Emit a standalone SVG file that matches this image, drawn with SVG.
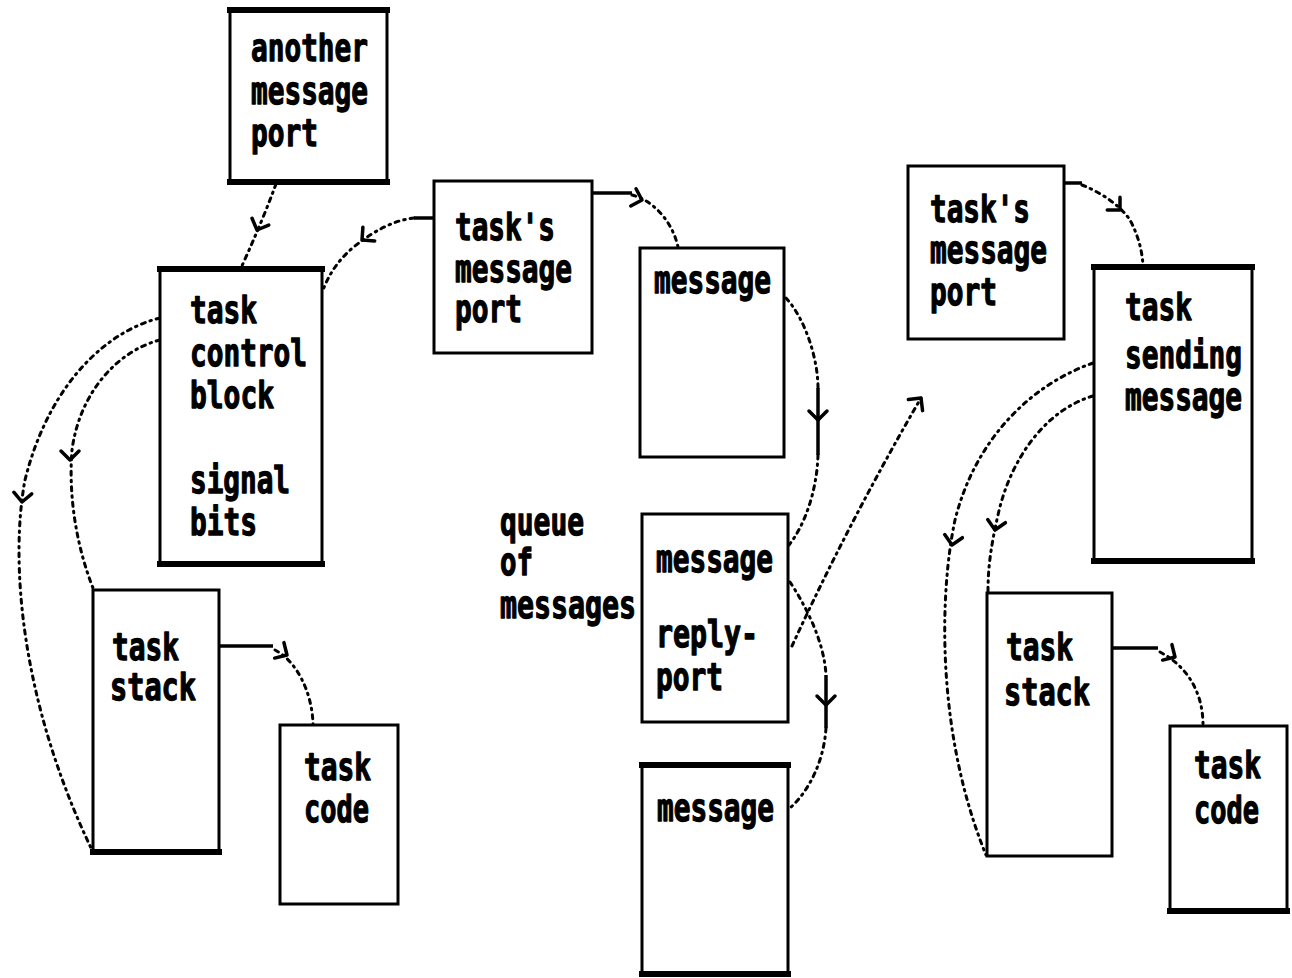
<svg xmlns="http://www.w3.org/2000/svg" xmlns:xlink="http://www.w3.org/1999/xlink" width="1292" height="978" viewBox="0 0 1292 978">
  <style>
    .box { fill: #fff; stroke: #000; stroke-width: 3; }
    .edge { stroke: #000; stroke-width: 6; stroke-linecap: square; }
    .lbl { font-family: "DejaVu Sans Mono", "Liberation Mono", monospace; font-weight: bold; font-size: 38px; fill: #000; stroke: #000; stroke-width: 1.3; stroke-linejoin: round; }
    .dot { fill: none; stroke: #000; stroke-width: 3; stroke-dasharray: 4 5 1.5 5; stroke-linecap: round; }
    .lead { fill: none; stroke: #000; stroke-width: 3.5; }
    .fork { fill: none; stroke: #000; stroke-width: 3.5; stroke-linecap: round; stroke-linejoin: round; }
  </style>
  <defs>
    <!-- crude open arrowhead; tip at origin, pointing along +y -->
    <path id="fork" class="fork" d="M-9,-9 L0,0 L9,-9"/>
  </defs>
  <rect width="1292" height="978" fill="#fff"/>

  <!-- connectors -->
  <g id="connectors">
    <!-- another message port -> task control block -->
    <path class="dot" d="M276,184 Q262,222 241,268"/>
    <use href="#fork" transform="translate(257,230) rotate(22)"/>

    <!-- task's message port -> task control block -->
    <path class="lead" d="M433,218 L414,218"/>
    <path class="dot" d="M414,218 C395,220 375,230 355,246 C340,258 330,272 323,290"/>
    <use href="#fork" transform="translate(362,240) rotate(49)"/>

    <!-- task's message port -> first message -->
    <path class="lead" d="M593,193 L632,193"/>
    <path class="dot" d="M632,195 C652,200 672,220 678,247"/>
    <use href="#fork" transform="translate(642,200) rotate(-73)"/>

    <!-- first message -> second message -->
    <path class="dot" d="M786,298 C806,320 818,360 818,388"/>
    <path class="lead" d="M818,388 L818,455"/>
    <path class="dot" d="M818,455 C817,490 805,525 789,545"/>
    <use href="#fork" transform="translate(818,420)"/>

    <!-- second message -> third message -->
    <path class="dot" d="M790,582 C805,605 824,640 826,675"/>
    <path class="lead" d="M826,675 L826,728"/>
    <path class="dot" d="M826,728 C824,760 810,790 790,808"/>
    <use href="#fork" transform="translate(826,705)"/>

    <!-- reply-port -> task's message port (right) -->
    <path class="dot" d="M792,646 Q850,520 921,398"/>
    <use href="#fork" transform="translate(921,398) rotate(-142)"/>

    <!-- task control block -> task stack (outer) -->
    <path class="dot" d="M160,318 C110,330 50,380 25,480 C10,560 20,700 92,850"/>
    <use href="#fork" transform="translate(22,502) rotate(5)"/>

    <!-- task control block -> task stack (inner) -->
    <path class="dot" d="M160,340 C120,350 80,390 72,450 C68,500 78,550 93,588"/>
    <use href="#fork" transform="translate(70,460)"/>

    <!-- task stack -> task code (left) -->
    <path class="lead" d="M219,646 L273,646"/>
    <path class="dot" d="M275,650 C295,660 312,690 313,724"/>
    <use href="#fork" transform="translate(287,655) rotate(-59)"/>

    <!-- task's message port -> task sending message -->
    <path class="lead" d="M1064,183 L1082,183"/>
    <path class="dot" d="M1082,185 C1100,192 1120,205 1130,220 C1138,235 1142,250 1143,265"/>
    <use href="#fork" transform="translate(1120,210) rotate(-45)"/>

    <!-- task sending message -> task stack (outer) -->
    <path class="dot" d="M1093,363 C1030,385 975,440 955,520 C940,590 935,730 986,855"/>
    <use href="#fork" transform="translate(952,545) rotate(10)"/>

    <!-- task sending message -> task stack (inner) -->
    <path class="dot" d="M1093,396 C1045,410 1010,460 998,515 C990,550 988,570 988,592"/>
    <use href="#fork" transform="translate(995,530) rotate(10)"/>

    <!-- task stack -> task code (right) -->
    <path class="lead" d="M1112,648 L1158,648"/>
    <path class="dot" d="M1160,652 C1185,665 1203,690 1203,725"/>
    <use href="#fork" transform="translate(1175,657) rotate(-59)"/>
  </g>

  <g id="another-port">
    <rect class="box" x="230" y="10" width="157" height="172"/>
    <line class="edge" x1="230" y1="10" x2="387" y2="10"/>
    <line class="edge" x1="230" y1="182" x2="387" y2="182"/>
    <text class="lbl" x="251" y="61" textLength="117" lengthAdjust="spacingAndGlyphs">another</text>
    <text class="lbl" x="251" y="104" textLength="117" lengthAdjust="spacingAndGlyphs">message</text>
    <text class="lbl" x="251" y="146" textLength="67" lengthAdjust="spacingAndGlyphs">port</text>
  </g>

  <g id="task-control-block">
    <rect class="box" x="160" y="269" width="162" height="295"/>
    <line class="edge" x1="160" y1="269" x2="322" y2="269"/>
    <line class="edge" x1="160" y1="564" x2="322" y2="564"/>
    <text class="lbl" x="190" y="323" textLength="67" lengthAdjust="spacingAndGlyphs">task</text>
    <text class="lbl" x="190" y="366" textLength="117" lengthAdjust="spacingAndGlyphs">control</text>
    <text class="lbl" x="190" y="408" textLength="84" lengthAdjust="spacingAndGlyphs">block</text>
    <text class="lbl" x="190" y="493" textLength="100" lengthAdjust="spacingAndGlyphs">signal</text>
    <text class="lbl" x="190" y="535" textLength="67" lengthAdjust="spacingAndGlyphs">bits</text>
  </g>

  <g id="task-port">
    <rect class="box" x="434" y="181" width="158" height="172"/>
    <text class="lbl" x="455" y="240" textLength="100" lengthAdjust="spacingAndGlyphs">task's</text>
    <text class="lbl" x="455" y="282" textLength="117" lengthAdjust="spacingAndGlyphs">message</text>
    <text class="lbl" x="455" y="322" textLength="67" lengthAdjust="spacingAndGlyphs">port</text>
  </g>

  <g id="message-1">
    <rect class="box" x="640" y="248" width="144" height="209"/>
    <text class="lbl" x="654" y="293" textLength="117" lengthAdjust="spacingAndGlyphs">message</text>
  </g>

  <g id="queue-label">
    <text class="lbl" x="500" y="535" textLength="84" lengthAdjust="spacingAndGlyphs">queue</text>
    <text class="lbl" x="500" y="575" textLength="33" lengthAdjust="spacingAndGlyphs">of</text>
    <text class="lbl" x="500" y="618" textLength="136" lengthAdjust="spacingAndGlyphs">messages</text>
  </g>

  <g id="message-2">
    <rect class="box" x="642" y="514" width="146" height="208"/>
    <text class="lbl" x="656" y="572" textLength="117" lengthAdjust="spacingAndGlyphs">message</text>
    <text class="lbl" x="656" y="647" textLength="102" lengthAdjust="spacingAndGlyphs">reply-</text>
    <text class="lbl" x="656" y="690" textLength="67" lengthAdjust="spacingAndGlyphs">port</text>
  </g>

  <g id="message-3">
    <rect class="box" x="642" y="765" width="146" height="209"/>
    <line class="edge" x1="642" y1="765" x2="788" y2="765"/>
    <line class="edge" x1="642" y1="974" x2="788" y2="974"/>
    <text class="lbl" x="657" y="821" textLength="117" lengthAdjust="spacingAndGlyphs">message</text>
  </g>

  <g id="task-stack-left">
    <rect class="box" x="93" y="590" width="126" height="262"/>
    <line class="edge" x1="93" y1="852" x2="219" y2="852"/>
    <text class="lbl" x="112" y="660" textLength="67" lengthAdjust="spacingAndGlyphs">task</text>
    <text class="lbl" x="110" y="700" textLength="86" lengthAdjust="spacingAndGlyphs">stack</text>
  </g>

  <g id="task-code-left">
    <rect class="box" x="280" y="725" width="118" height="179"/>
    <text class="lbl" x="304" y="780" textLength="67" lengthAdjust="spacingAndGlyphs">task</text>
    <text class="lbl" x="304" y="822" textLength="65" lengthAdjust="spacingAndGlyphs">code</text>
  </g>

  <g id="task-port-right">
    <rect class="box" x="908" y="166" width="156" height="173"/>
    <text class="lbl" x="930" y="222" textLength="100" lengthAdjust="spacingAndGlyphs">task's</text>
    <text class="lbl" x="930" y="263" textLength="117" lengthAdjust="spacingAndGlyphs">message</text>
    <text class="lbl" x="930" y="305" textLength="67" lengthAdjust="spacingAndGlyphs">port</text>
  </g>

  <g id="task-sending">
    <rect class="box" x="1094" y="267" width="158" height="294"/>
    <line class="edge" x1="1094" y1="267" x2="1252" y2="267"/>
    <line class="edge" x1="1094" y1="561" x2="1252" y2="561"/>
    <text class="lbl" x="1125" y="320" textLength="67" lengthAdjust="spacingAndGlyphs">task</text>
    <text class="lbl" x="1125" y="368" textLength="117" lengthAdjust="spacingAndGlyphs">sending</text>
    <text class="lbl" x="1125" y="410" textLength="117" lengthAdjust="spacingAndGlyphs">message</text>
  </g>

  <g id="task-stack-right">
    <rect class="box" x="987" y="593" width="125" height="263"/>
    <text class="lbl" x="1006" y="660" textLength="67" lengthAdjust="spacingAndGlyphs">task</text>
    <text class="lbl" x="1004" y="705" textLength="86" lengthAdjust="spacingAndGlyphs">stack</text>
  </g>

  <g id="task-code-right">
    <rect class="box" x="1170" y="726" width="117" height="185"/>
    <line class="edge" x1="1170" y1="911" x2="1287" y2="911"/>
    <text class="lbl" x="1194" y="778" textLength="67" lengthAdjust="spacingAndGlyphs">task</text>
    <text class="lbl" x="1194" y="823" textLength="65" lengthAdjust="spacingAndGlyphs">code</text>
  </g>
</svg>
